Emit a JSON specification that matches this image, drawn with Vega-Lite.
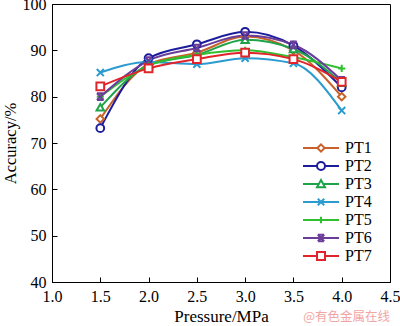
{
  "$schema": "https://vega.github.io/schema/vega-lite/v6.json",
  "autosize": "none",
  "width": 338,
  "height": 278,
  "padding": {"left": 52, "top": 4, "right": 10, "bottom": 44},
  "background": "white",
  "title": {"text": "@有色金属在线", "orient": "bottom", "anchor": "end", "frame": "group", "color": "#f2a5a5", "fontSize": 12.5, "font": "Noto Sans CJK SC", "fontWeight": "normal", "offset": -13},
  "config": {
    "font": "Liberation Serif",
    "view": {"stroke": "black", "strokeWidth": 1},
    "axis": {"grid": false, "domainColor": "black", "domainWidth": 1, "tickColor": "black", "tickSize": -5, "labelFont": "Liberation Serif", "labelFontSize": 16, "labelColor": "black", "titleFont": "Liberation Serif", "titleFontSize": 17, "titleFontWeight": "normal", "titleColor": "black", "labelFlush": false, "labelOverlap": false},
    "legend": {"labelFont": "Liberation Serif"}
  },
  "data": {"values": [
    {"p": 1.5, "acc": 75.2, "s": "PT1"}, {"p": 2.0, "acc": 87.0, "s": "PT1"}, {"p": 2.5, "acc": 89.5, "s": "PT1"}, {"p": 3.0, "acc": 93.0, "s": "PT1"}, {"p": 3.5, "acc": 90.0, "s": "PT1"}, {"p": 4.0, "acc": 80.0, "s": "PT1"},
    {"p": 1.5, "acc": 73.2, "s": "PT2"}, {"p": 2.0, "acc": 88.3, "s": "PT2"}, {"p": 2.5, "acc": 91.3, "s": "PT2"}, {"p": 3.0, "acc": 94.0, "s": "PT2"}, {"p": 3.5, "acc": 91.0, "s": "PT2"}, {"p": 4.0, "acc": 82.0, "s": "PT2"},
    {"p": 1.5, "acc": 77.7, "s": "PT3"}, {"p": 2.0, "acc": 86.8, "s": "PT3"}, {"p": 2.5, "acc": 89.0, "s": "PT3"}, {"p": 3.0, "acc": 92.3, "s": "PT3"}, {"p": 3.5, "acc": 90.3, "s": "PT3"}, {"p": 4.0, "acc": 83.0, "s": "PT3"},
    {"p": 1.5, "acc": 85.2, "s": "PT4"}, {"p": 2.0, "acc": 87.5, "s": "PT4"}, {"p": 2.5, "acc": 87.0, "s": "PT4"}, {"p": 3.0, "acc": 88.3, "s": "PT4"}, {"p": 3.5, "acc": 87.2, "s": "PT4"}, {"p": 4.0, "acc": 77.0, "s": "PT4"},
    {"p": 1.5, "acc": 80.0, "s": "PT5"}, {"p": 2.0, "acc": 86.7, "s": "PT5"}, {"p": 2.5, "acc": 89.0, "s": "PT5"}, {"p": 3.0, "acc": 90.0, "s": "PT5"}, {"p": 3.5, "acc": 88.5, "s": "PT5"}, {"p": 4.0, "acc": 86.1, "s": "PT5"},
    {"p": 1.5, "acc": 80.0, "s": "PT6"}, {"p": 2.0, "acc": 87.8, "s": "PT6"}, {"p": 2.5, "acc": 90.5, "s": "PT6"}, {"p": 3.0, "acc": 93.2, "s": "PT6"}, {"p": 3.5, "acc": 91.2, "s": "PT6"}, {"p": 4.0, "acc": 83.5, "s": "PT6"},
    {"p": 1.5, "acc": 82.2, "s": "PT7"}, {"p": 2.0, "acc": 86.1, "s": "PT7"}, {"p": 2.5, "acc": 88.1, "s": "PT7"}, {"p": 3.0, "acc": 89.5, "s": "PT7"}, {"p": 3.5, "acc": 88.1, "s": "PT7"}, {"p": 4.0, "acc": 83.2, "s": "PT7"}
  ]},
  "encoding": {
    "x": {"field": "p", "type": "quantitative", "scale": {"domain": [1, 4.5], "nice": false, "zero": false}, "axis": {"title": "Pressure/MPa", "values": [1, 1.5, 2, 2.5, 3, 3.5, 4, 4.5], "format": ".1f", "labelPadding": 11, "titlePadding": 4}},
    "y": {"field": "acc", "type": "quantitative", "scale": {"domain": [40, 100], "nice": false, "zero": false}, "axis": {"title": "Accuracy/%", "titleFontSize": 16.5, "values": [40, 50, 60, 70, 80, 90, 100], "labelPadding": 11, "titlePadding": 4}},
    "stroke": {"field": "s", "type": "nominal", "scale": {"domain": ["PT1", "PT2", "PT3", "PT4", "PT5", "PT6", "PT7"], "range": ["#c8612a", "#1c1c9c", "#1fa34a", "#2b9bd0", "#2fbf2f", "#6a3d9a", "#e0242a"]},
      "legend": {"orient": "bottom-right", "offset": 18, "title": null, "symbolSize": 64, "symbolStrokeWidth": 2, "labelFont": "Liberation Serif", "labelFontSize": 16, "labelColor": "black", "rowPadding": 2, "labelOffset": 16,
        "encode": {"symbols": {"update": {"fill": {"value": "white"}, "shape": {"signal": "datum.value === 'PT1' ? 'M-4.5,0L-0.9,0M0.9,0L4.5,0M0,-0.9L0.9,0L0,0.9L-0.9,0Z' : datum.value === 'PT2' ? 'M-4.5,0L-1,0M1,0L4.5,0M-1,0A1,1,0,1,1,1,0A1,1,0,1,1,-1,0Z' : datum.value === 'PT3' ? 'M-4.5,0L-0.6,0M0.6,0L4.5,0M0,-1L1,0.8L-1,0.8Z' : datum.value === 'PT4' ? 'M-4.5,0L4.5,0M-0.8,-0.8L0.8,0.8M-0.8,0.8L0.8,-0.8' : datum.value === 'PT5' ? 'M-4.5,0L4.5,0M0,-0.8L0,0.8' : datum.value === 'PT6' ? 'M-4.5,0L4.5,0M-0.8,-0.8L0.8,0.8M-0.8,0.8L0.8,-0.8M-0.8,-0.8L0.8,-0.8M-0.8,0.8L0.8,0.8' : 'M-4.5,0L-1,0M1,0L4.5,0M-1,-1L1,-1L1,1L-1,1Z'"}}}}}
    }
  },
  "layer": [
    {"mark": {"type": "line", "interpolate": "monotone", "strokeWidth": 2}},
    {"transform": [{"filter": {"field": "s", "equal": "PT1"}}], "mark": {"type": "point", "shape": "diamond", "filled": true, "fill": "white", "size": 55, "strokeWidth": 2, "opacity": 1}},
    {"transform": [{"filter": {"field": "s", "equal": "PT2"}}], "mark": {"type": "point", "shape": "circle", "filled": true, "fill": "white", "size": 60, "strokeWidth": 2, "opacity": 1}},
    {"transform": [{"filter": {"field": "s", "equal": "PT3"}}], "mark": {"type": "point", "shape": "triangle-up", "filled": true, "fill": "white", "size": 55, "strokeWidth": 2, "opacity": 1}},
    {"transform": [{"filter": {"field": "s", "equal": "PT4"}}], "mark": {"type": "point", "shape": "M-1,-1L1,1M-1,1L1,-1", "filled": true, "fill": "white", "size": 50, "strokeWidth": 2, "opacity": 1}},
    {"transform": [{"filter": {"field": "s", "equal": "PT5"}}], "mark": {"type": "point", "shape": "M-1,0L1,0M0,-1L0,1", "filled": true, "fill": "white", "size": 50, "strokeWidth": 2, "opacity": 1}},
    {"transform": [{"filter": {"field": "s", "equal": "PT6"}}], "mark": {"type": "point", "shape": "M-1,-1L1,1M-1,1L1,-1M-1,-1L1,-1M-1,1L1,1", "filled": true, "fill": "white", "size": 45, "strokeWidth": 2, "opacity": 1}},
    {"transform": [{"filter": {"field": "s", "equal": "PT7"}}], "mark": {"type": "point", "shape": "square", "filled": true, "fill": "white", "size": 60, "strokeWidth": 2, "opacity": 1}}
  ]
}
